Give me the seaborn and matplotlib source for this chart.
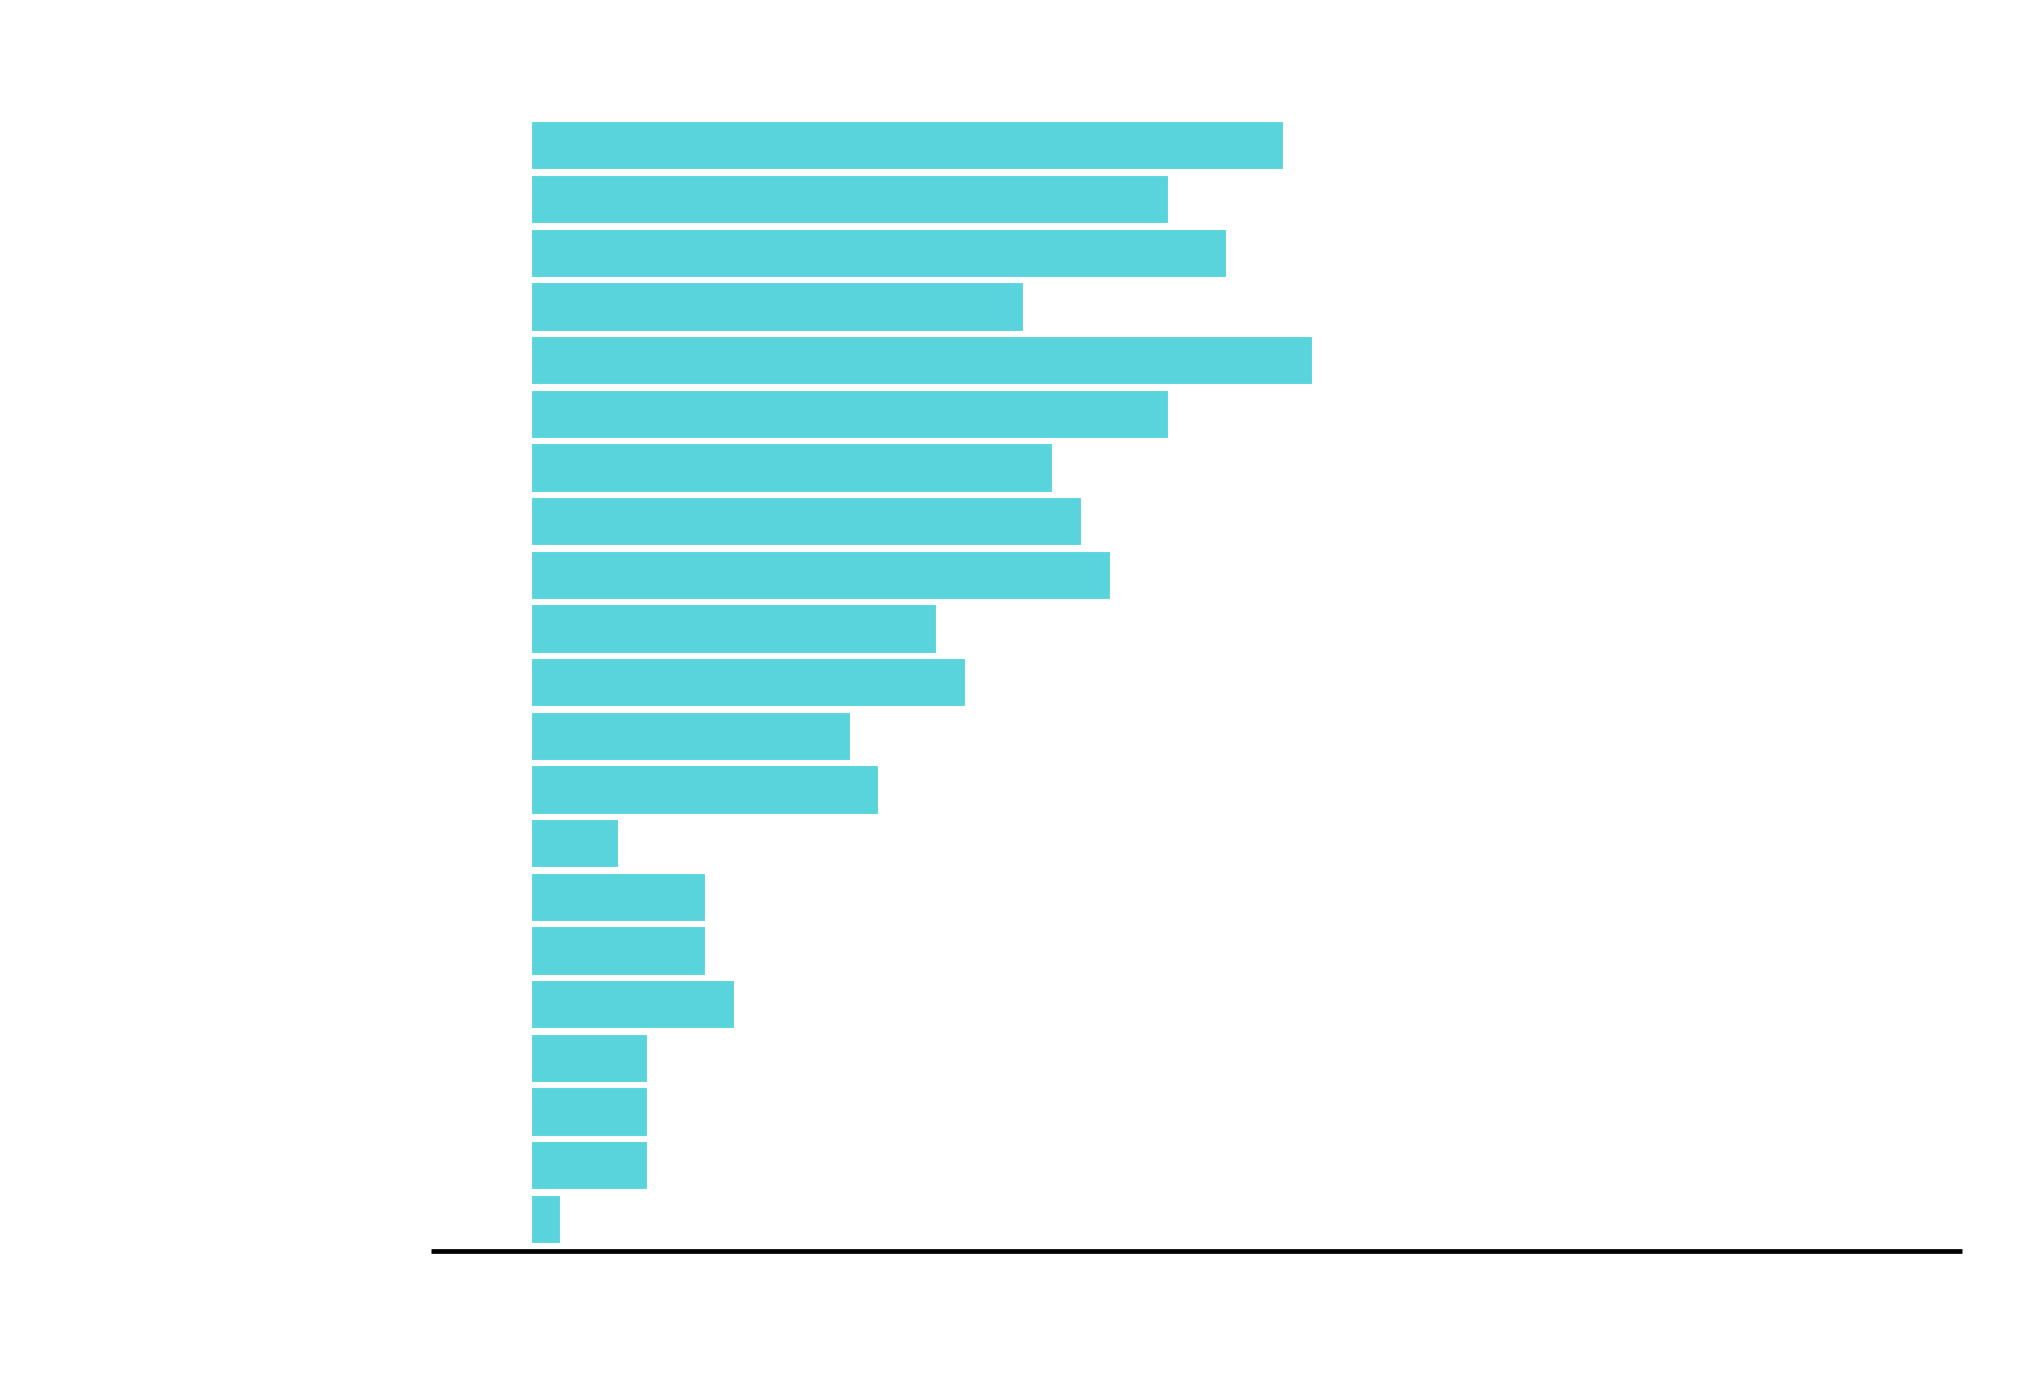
import matplotlib
matplotlib.use("Agg")
import matplotlib.pyplot as plt
import pandas as pd
import seaborn as sns

# Categories (labels are hidden in the chart) and bar values
categories = [f"Item {i + 1}" for i in range(21)]
values = [26, 22, 24, 17, 27, 22, 18, 19, 20, 14, 15, 11, 12, 3, 6, 6, 7, 4, 4, 4, 1]

df = pd.DataFrame({"Category": categories, "Value": values})

sns.set_style("white")

fig = plt.figure(figsize=(10.2, 6.98), dpi=200)
ax = fig.add_axes([0.2113, 0.1041, 0.7503, 0.8145])

sns.barplot(data=df, x="Value", y="Category", orient="h", color="#59D4DC",
            saturation=1, width=0.9, edgecolor="white", linewidth=0.4, ax=ax)

ax.set_xlim(-3.47, 49.45)
ax.set_ylim(20.59, -0.59)

# Only the bottom spine is shown, no ticks or labels
for side in ["top", "right", "left"]:
    ax.spines[side].set_visible(False)
ax.spines["bottom"].set_linewidth(1.7)
ax.spines["bottom"].set_color("black")
ax.spines["bottom"].set_capstyle("butt")
ax.set_xticks([])
ax.set_yticks([])
ax.set_xlabel("")
ax.set_ylabel("")

fig.savefig("out.png", dpi=200, facecolor="white")
